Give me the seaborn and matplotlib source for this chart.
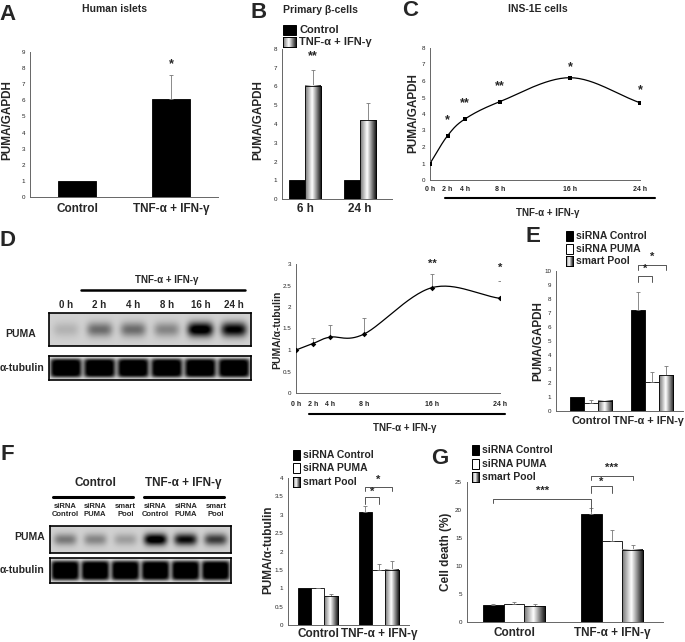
import numpy as np
import pandas as pd
import matplotlib
matplotlib.use("Agg")
import matplotlib.pyplot as plt
import seaborn as sns
from matplotlib.patches import Rectangle
from matplotlib.lines import Line2D

# ---------------- data ----------------
treat = "TNF-α + IFN-γ"

# A  human islets
a_groups = ["Control", treat]
a_values = [1.0, 6.1]
a_err = [0.0, 1.5]

# B  primary beta-cells
b_times = ["6 h", "24 h"]
b_series = ["Control", treat]
b_control = [1.0, 1.0]
b_treated = [6.05, 4.2]
b_treated_err = [0.85, 0.9]

# C  INS-1E time course
c_hours = [0, 2, 4, 8, 16, 24]
c_values = [1.0, 2.68, 3.7, 4.75, 6.2, 4.68]
c_stars = ["", "*", "**", "**", "*", "*"]
c_star_y = [0, 3.6, 4.65, 5.7, 6.85, 5.45]

# D  western blot time course
d_hours = [0, 2, 4, 8, 16, 24]
d_values = [1.0, 1.15, 1.3, 1.37, 2.45, 2.2]
d_err = [0.0, 0.14, 0.27, 0.38, 0.32, 0.4]
d_stars = ["", "", "", "", "**", "*"]
d_star_y = [0, 0, 0, 0, 3.0, 2.9]
d_puma_bands = [0.12, 0.4, 0.4, 0.3, 0.95, 0.85]
d_tub_bands = [1.0] * 6

# E, F, G  siRNA experiments
si_groups = ["Control", treat]
si_series = ["siRNA Control", "siRNA PUMA", "smart Pool"]
e_values = [1.0, 0.55, 0.75, 7.2, 2.1, 2.55]
e_err = [0.0, 0.25, 0.05, 1.3, 0.7, 0.65]
f_values = [1.0, 1.0, 0.78, 3.07, 1.5, 1.5]
f_err = [0.0, 0.02, 0.05, 0.18, 0.15, 0.25]
g_values = [3.0, 3.2, 2.8, 19.2, 14.5, 12.9]
g_err = [0.3, 0.4, 0.5, 1.2, 1.9, 0.9]
f_lanes = ["siRNA\nControl", "siRNA\nPUMA", "smart\nPool"] * 2
f_puma_bands = [0.35, 0.3, 0.2, 0.95, 0.8, 0.6]
f_tub_bands = [1.0] * 6

# ---------------- setup ----------------
sns.set_style("white")
plt.rcParams["font.family"] = ["Liberation Sans", "DejaVu Sans"]

W, H = 685, 642
fig = plt.figure(figsize=(W / 100, H / 100), dpi=100)
AX_COL = "#666666"
GRAD = np.interp(np.linspace(0, 1, 40), [0, 0.45, 1], [0.45, 1.0, 0.12])


def box(left, top, right, bottom):
    a = fig.add_axes([left / W, 1 - bottom / H, (right - left) / W, (bottom - top) / H])
    a.patch.set_alpha(0)
    return a


def ftext(x, y, s, size=8, ha="center", rot=0, weight="bold"):
    fig.text(x / W, 1 - y / H, s, fontsize=size, ha=ha, va="center",
             rotation=rot, fontweight=weight)


def fline(x0, x1, y, lw=1.8):
    fig.add_artist(Line2D([x0 / W, x1 / W], [1 - y / H] * 2, color="black", lw=lw))


def style_axes(ax, ymax, ystep):
    sns.despine(ax=ax)
    for s in ["left", "bottom"]:
        ax.spines[s].set_color(AX_COL)
        ax.spines[s].set_linewidth(0.7)
    ticks = np.arange(0, ymax + ystep / 2, ystep)
    ax.set_ylim(0, ymax)
    ax.set_yticks(ticks)
    ax.set_yticklabels([f"{t:g}" for t in ticks])
    ax.tick_params(axis="both", direction="out", length=2, width=0.6, color=AX_COL,
                   labelsize=4.5, pad=1.5, labelcolor="#222222")
    ax.set_xlabel("")
    ax.set_ylabel("")


def grad_square(x, y, w, h):
    a = box(x, y, x + w, y + h)
    a.imshow(GRAD[None, :], cmap="gray", vmin=0, vmax=1, aspect="auto")
    a.set_xticks([])
    a.set_yticks([])
    a.set_zorder(5)
    for s in a.spines.values():
        s.set_color("black")
        s.set_linewidth(0.7)


def legend(x, rows, labels, styles, size=7.5, w=7, h=10):
    for y, lab, st in zip(rows, labels, styles):
        if st == "grad":
            grad_square(x, y - h / 2, w, h)
        else:
            fig.add_artist(Rectangle((x / W, 1 - (y + h / 2) / H), w / W, h / H,
                                     transform=fig.transFigure, fc=st, ec="black", lw=0.7))
        ftext(x + w + 3, y, lab, size=size, ha="left")


def bar_panel(ax, df, hue_order, colors, width, xlim, ymax, ystep, shaded):
    sns.barplot(data=df, x="group", y="value", hue="series", hue_order=hue_order,
                palette=colors, width=width, errorbar=None, legend=False,
                edgecolor="black", linewidth=0.6, saturation=1, ax=ax,
                dodge=len(hue_order) > 1)
    bars = sorted(ax.patches, key=lambda p: p.get_x())
    centers = []
    for p, (_, row) in zip(bars, df.iterrows()):
        x0, w, h = p.get_x(), p.get_width(), p.get_height()
        centers.append(x0 + w / 2)
        if row["series"] in shaded:
            ax.imshow(GRAD[None, :], extent=[x0, x0 + w, 0, h], aspect="auto", cmap="gray",
                      vmin=0, vmax=1, zorder=p.get_zorder() + 0.1, interpolation="bilinear")
            ax.add_patch(Rectangle((x0, 0), w, h, fill=False, ec="black", lw=0.6,
                                   zorder=p.get_zorder() + 0.2))
        if row["err"] > 0:
            ax.errorbar(x0 + w / 2, h, yerr=[[0], [row["err"]]], fmt="none", ecolor="#777777",
                        elinewidth=0.6, capsize=1.5, capthick=0.6, zorder=1)
    style_axes(ax, ymax, ystep)
    ax.set_xlim(*xlim)
    ax.set_xticks([0.5])
    ax.set_xticklabels([])
    return centers


def bracket(ax, xa, xb, y, dl, dr, text, ty, size=8):
    ax.plot([xa, xa, xb, xb], [y - dl, y, y, y - dr], color="#555555", lw=0.7, clip_on=False)
    ax.text((xa + xb) / 2, ty, text, ha="center", va="center", fontsize=size,
            fontweight="bold", clip_on=False)


def smooth(x, y, n=30):
    # Catmull-Rom curve through the measured points (how the original draws its lines)
    P = np.column_stack([x, y]).astype(float)
    P = np.vstack([2 * P[0] - P[1], P, 2 * P[-1] - P[-2]])
    t = np.linspace(0, 1, n, endpoint=False)[:, None]
    segs = []
    for i in range(1, len(P) - 2):
        p0, p1, p2, p3 = P[i - 1], P[i], P[i + 1], P[i + 2]
        segs.append(0.5 * (2 * p1 + (p2 - p0) * t + (2 * p0 - 5 * p1 + 4 * p2 - p3) * t ** 2
                           + (3 * p1 - p0 - 3 * p2 + p3) * t ** 3))
    segs.append(P[-2][None])
    out = np.vstack(segs)
    return out[:, 0], out[:, 1]


def time_panel(ax, hours, values, marker, ms, ymax, ystep, label_off):
    sx, sy = smooth(hours, values)
    ax.plot(sx, sy, color="black", lw=0.9, zorder=2)
    sns.scatterplot(x=hours, y=values, marker=marker, s=ms, color="black", ax=ax,
                    zorder=3, linewidth=0)
    style_axes(ax, ymax, ystep)
    ax.set_xlim(0, 24)
    ax.set_xticks(np.arange(0, 25, 4))
    ax.set_xticklabels([])
    for hr in hours:
        ax.text(hr, label_off, f"{hr} h", transform=ax.get_xaxis_transform(), ha="center",
                va="center", fontsize=5, fontweight="bold")


def blot(left, top, right, bottom, levels, kind):
    ax = box(left, top, right, bottom)
    n = len(levels)
    X, Y = np.meshgrid(np.linspace(0, n, 360), np.linspace(0, 1, 60))
    img = np.full_like(X, 0.18 if kind == "puma" else 0.12)
    for i, lv in enumerate(levels):
        if kind == "puma":
            img += lv * np.exp(-((X - i - 0.5) / 0.38) ** 4 - ((Y - 0.5) / 0.22) ** 2)
        else:
            img += lv * np.exp(-((X - i - 0.5) / 0.47) ** 8 - ((Y - 0.5) / 0.4) ** 6)
    ax.imshow(np.clip(img, 0, 1), cmap="gray_r", vmin=0, vmax=1, aspect="auto",
              extent=[0, n, 0, 1], interpolation="bilinear")
    ax.set_xticks([])
    ax.set_yticks([])
    for s in ax.spines.values():
        s.set_visible(True)
        s.set_color("black")
        s.set_linewidth(1.2)


# ---------------- A ----------------
ftext(8, 15, "A", size=16)
ftext(115, 9, "Human islets", size=7.5)
ax = box(30, 52, 218, 197)
dfa = pd.DataFrame({"group": a_groups, "series": ["all"] * 2, "value": a_values, "err": a_err})
ca = bar_panel(ax, dfa, ["all"], ["black"], 0.4, (-0.5, 1.5), 9, 1, [])
ax.text(ca[1], 8.25, "*", ha="center", va="center", fontsize=9, fontweight="bold")
ftext(7, 120, "PUMA/GAPDH", size=8.5, rot=90)
for c, g in zip(ca, a_groups):
    ftext(30 + (c + 0.5) * 94, 209, g, size=8.5)

# ---------------- B ----------------
ftext(259, 12, "B", size=16)
ftext(283, 10, "Primary β-cells", size=7.5, ha="left")
legend(283, [30, 42], b_series, ["black", "grad"], size=8, w=13, h=10)
ax = box(282, 49, 392, 199)
dfb = pd.DataFrame({"group": np.repeat(b_times, 2), "series": b_series * 2,
                    "value": [v for pair in zip(b_control, b_treated) for v in pair],
                    "err": [v for pair in zip([0, 0], b_treated_err) for v in pair]})
cb = bar_panel(ax, dfb, b_series, ["black", "white"], 0.58, (-0.42, 1.58), 8, 1, [treat])
ax.text(cb[1], 7.6, "**", ha="center", va="center", fontsize=9, fontweight="bold")
ftext(258, 120, "PUMA/GAPDH", size=8.5, rot=90)
ftext(305, 209, b_times[0], size=8.5)
ftext(360, 209, b_times[1], size=8.5)

# ---------------- C ----------------
ftext(410, 11, "C", size=16)
ftext(538, 9, "INS-1E cells", size=7.5)
ax = box(430, 48, 640, 180)
time_panel(ax, c_hours, c_values, "s", 7, 8, 1, -0.075)
for hr, st, sy in zip(c_hours, c_stars, c_star_y):
    if st:
        ax.text(hr, sy, st, ha="center", va="center", fontsize=9, fontweight="bold")
ftext(413, 113, "PUMA/GAPDH", size=8.5, rot=90)
fline(445, 655, 198, lw=1.5)
ftext(548, 213, treat, size=7)

# ---------------- D ----------------
ftext(8, 240, "D", size=16)
ftext(167, 280, treat, size=7)
fline(81, 245, 290)
for i, hr in enumerate(d_hours):
    ftext(49 + (i + 0.5) * 202 / 6, 305, f"{hr} h", size=7)
blot(49, 313, 251, 346, d_puma_bands, "puma")
blot(49, 356, 251, 380, d_tub_bands, "tub")
ftext(36, 334, "PUMA", size=7.5, ha="right")
ftext(44, 368, "α-tubulin", size=7.5, ha="right")

ax = box(296, 264, 500, 393)
time_panel(ax, d_hours, d_values, "D", 8, 3, 0.5, -0.09)
ax.errorbar(d_hours, d_values, yerr=[[0] * 6, d_err], fmt="none", ecolor="#777777",
            elinewidth=0.6, capsize=1.2, capthick=0.6, zorder=1)
for hr, st, sy in zip(d_hours, d_stars, d_star_y):
    if st:
        ax.text(hr, sy, st, ha="center", va="center", fontsize=8, fontweight="bold")
ftext(277, 330, "PUMA/α-tubulin", size=7.5, rot=90)
fline(309, 505, 414, lw=1.5)
ftext(405, 428, treat, size=7)

# ---------------- E ----------------
si_colors = ["black", "white", "#bbbbbb"]
si_styles = ["black", "white", "grad"]
ftext(533, 236, "E", size=16)
legend(566, [236, 249, 261], si_series, si_styles)
ax = box(556, 271, 683, 411)
dfe = pd.DataFrame({"group": np.repeat(si_groups, 3), "series": si_series * 2,
                    "value": e_values, "err": e_err})
ce = bar_panel(ax, dfe, si_series, si_colors, 0.69, (-0.57, 1.51), 10, 1, ["smart Pool"])
bracket(ax, ce[3], ce[4], 9.64, 0.4, 0.4, "*", 10.15)
bracket(ax, ce[3], ce[5], 10.43, 0.36, 0.36, "*", 11.0)
ftext(538, 341, "PUMA/GAPDH", size=8.5, rot=90)
ftext(591, 421, "Control", size=8)
ftext(648, 421, treat, size=7.8)

# ---------------- F ----------------
ftext(7, 455, "F", size=16)
ftext(95, 483, "Control", size=8.5)
ftext(183, 483, treat, size=8.5)
fline(53, 133, 497, lw=2.2)
fline(144, 224, 497, lw=2.2)
for i, lane in enumerate(f_lanes):
    ftext(50 + (i + 0.5) * 181 / 6, 511, lane, size=5.5)
blot(50, 526, 231, 553, f_puma_bands, "puma")
blot(50, 558, 231, 583, f_tub_bands, "tub")
ftext(45, 537, "PUMA", size=7.5, ha="right")
ftext(44, 570, "α-tubulin", size=7.5, ha="right")

legend(293, [455, 468, 482], si_series, si_styles)
ax = box(288, 478, 409, 625)
dff = pd.DataFrame({"group": np.repeat(si_groups, 3), "series": si_series * 2,
                    "value": f_values, "err": f_err})
cf = bar_panel(ax, dff, si_series, si_colors, 0.66, (-0.49, 1.5), 4, 0.5, ["smart Pool"])
bracket(ax, cf[3], cf[4], 3.48, 0.18, 0.18, "*", 3.62)
bracket(ax, cf[3], cf[5], 3.755, 0.12, 0.12, "*", 3.95)
ftext(268, 550, "PUMA/α-tubulin", size=8.5, rot=90)
ftext(318, 634, "Control", size=8.5)
ftext(379, 634, treat, size=8.5)

# ---------------- G ----------------
ftext(440, 458, "G", size=16)
legend(472, [450, 464, 477], si_series, si_styles)
ax = box(467, 482, 663, 622)
dfg = pd.DataFrame({"group": np.repeat(si_groups, 3), "series": si_series * 2,
                    "value": g_values, "err": g_err})
cg = bar_panel(ax, dfg, si_series, si_colors, 0.64, (-0.48, 1.52), 25, 5, ["smart Pool"])
bracket(ax, cg[0], cg[3], 22.0, 0.7, 2.1, "***", 23.4)
bracket(ax, cg[3], cg[4], 24.3, 1.3, 1.3, "*", 25.0)
bracket(ax, cg[3], cg[5], 26.1, 0.8, 0.8, "***", 27.5)
ftext(446, 552, "Cell death (%)", size=8.5, rot=90)
ftext(514, 633, "Control", size=8.5)
ftext(612, 633, treat, size=8.5)

fig.savefig("out.png", dpi=100)
